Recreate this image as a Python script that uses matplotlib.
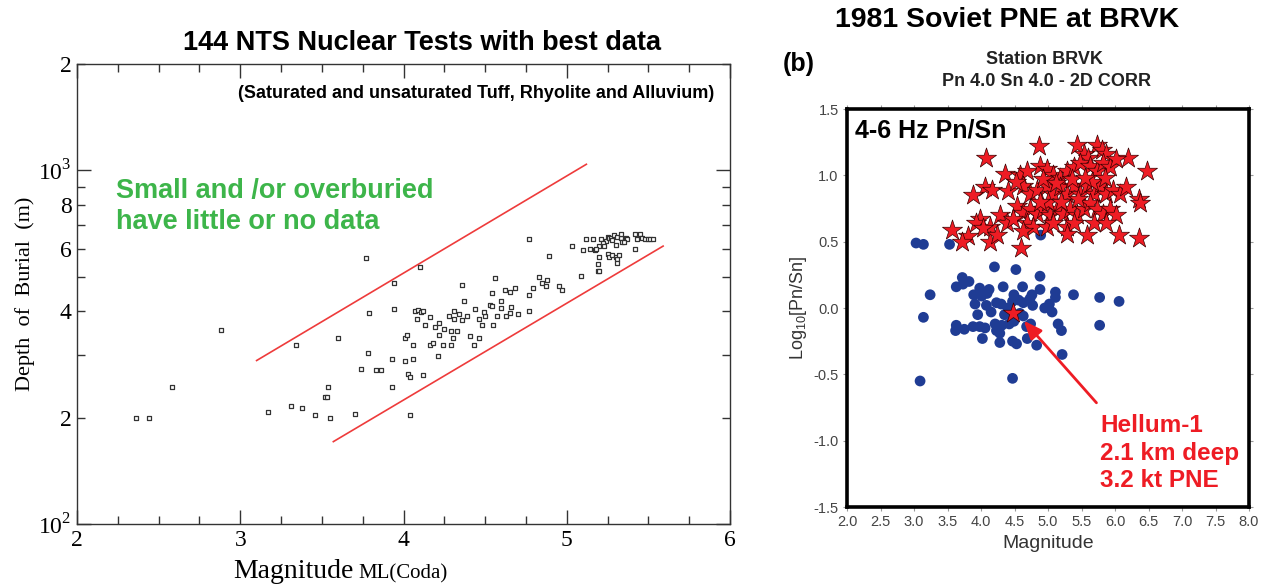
import matplotlib
matplotlib.use("Agg")
import matplotlib.pyplot as plt

plt.rcParams["font.family"] = ["Liberation Sans", "DejaVu Sans"]
plt.rcParams["mathtext.fontset"] = "custom"
plt.rcParams["mathtext.rm"] = "Liberation Serif"
plt.rcParams["mathtext.sf"] = "Liberation Sans"

# ---------------------------------------------------------------------------
# Data: left panel (NTS tests, magnitude vs depth of burial)
# ---------------------------------------------------------------------------
nts_mag = [2.36, 2.44, 2.58, 2.88, 3.17, 3.31, 3.34, 3.38, 3.46, 3.52, 3.54, 3.53,
           3.55, 3.60, 3.70, 3.74, 3.77, 3.78, 3.79, 3.83, 3.86, 3.93, 3.93, 3.94,
           3.94, 4.01, 4.02, 4.01, 4.03, 4.04, 4.04, 4.06, 4.06, 4.07, 4.09, 4.11,
           4.12, 4.08, 4.10, 4.12, 4.13, 4.16, 4.16, 4.18, 4.21, 4.22, 4.22, 4.24,
           4.25, 4.28, 4.29, 4.29, 4.30, 4.31, 4.33, 4.34, 4.36, 4.36, 4.37, 4.39,
           4.41, 4.43, 4.44, 4.46, 4.46, 4.48, 4.50, 4.53, 4.54, 4.54, 4.55, 4.56,
           4.57, 4.60, 4.60, 4.62, 4.63, 4.65, 4.65, 4.68, 4.70, 4.77, 4.77, 4.77,
           4.79, 4.83, 4.85, 4.87, 4.88, 4.89, 4.95, 4.97, 5.03, 5.09, 5.10, 5.12,
           5.16, 5.17, 5.19, 5.19, 5.20, 5.20, 5.20, 5.21, 5.24, 5.25, 5.26, 5.27,
           5.28, 5.29, 5.31, 5.33, 5.33, 5.34, 5.36, 5.37, 5.25, 5.26, 5.28, 5.30,
           5.31, 5.31, 5.32, 5.43, 5.45, 5.42, 5.46, 5.48, 5.50, 5.51, 5.53, 5.42,
           5.22, 5.23, 5.30, 5.35, 5.18, 5.14, 4.66, 4.49, 4.19, 4.31]
nts_depth = [200, 200, 244, 354, 207, 216, 321, 213, 204, 228, 244, 228,
             200, 335, 205, 274, 566, 305, 396, 272, 272, 293, 244, 481,
             405, 335, 343, 289, 266, 261, 203, 320, 293, 400, 402, 398,
             400, 381, 533, 264, 366, 385, 320, 326, 298, 370, 342, 320,
             357, 388, 351, 320, 336, 401, 351, 392, 378, 475, 428, 388,
             340, 320, 405, 336, 381, 366, 388, 416, 450, 413, 366, 495,
             388, 408, 428, 458, 388, 452, 396, 464, 393, 640, 445, 401,
             464, 501, 481, 472, 491, 573, 470, 458, 610, 502, 594, 640,
             640, 594, 545, 520, 520, 570, 613, 640, 632, 650, 645, 642,
             635, 655, 650, 645, 660, 628, 645, 640, 582, 570, 575, 568,
             560, 548, 575, 640, 663, 600, 645, 640, 640, 640, 640, 660,
             625, 612, 615, 628, 600, 600, 412, 398, 360, 380]

# bounding lines (endpoints)
upper_mag = [3.10, 5.12]
upper_depth = [290, 1041]
lower_mag = [3.57, 5.59]
lower_depth = [171, 611]

# ---------------------------------------------------------------------------
# Data: right panel (BRVK Pn/Sn ratios)
# ---------------------------------------------------------------------------
pne_mag = [4.87, 5.43, 5.73, 5.80, 5.87, 4.07, 6.20, 5.53, 5.60, 6.47, 4.36, 4.58,
           4.68, 4.88, 4.98, 5.08, 5.18, 5.28, 5.38, 5.48, 5.63, 5.73, 5.82, 5.92,
           6.02, 4.06, 4.16, 3.88, 4.63, 4.73, 4.83, 4.98, 5.08, 5.18, 5.28, 5.38,
           5.48, 5.58, 5.68, 5.78, 5.87, 5.97, 6.07, 6.17, 6.35, 6.37, 4.53, 4.63,
           4.73, 4.83, 4.93, 5.03, 5.13, 5.23, 5.33, 5.43, 5.53, 5.63, 5.73, 5.82,
           5.92, 6.02, 3.98, 3.93, 4.28, 4.38, 4.48, 4.13, 4.03, 4.68, 4.78, 4.98,
           5.08, 5.28, 5.38, 5.68, 5.87, 3.57, 3.81, 3.72, 4.13, 4.24, 4.63, 4.60,
           5.28, 5.58, 6.06, 6.36, 4.40, 4.52, 5.00, 5.20, 5.45, 5.65, 5.85, 4.92,
           5.35, 4.88, 5.55, 5.12]
pne_ratio = [1.22, 1.23, 1.23, 1.19, 1.16, 1.13, 1.13, 1.16, 1.13, 1.03, 1.01, 1.00,
             1.03, 1.07, 1.05, 1.00, 0.98, 1.03, 1.06, 1.09, 1.07, 1.03, 1.09, 1.06,
             1.12, 0.91, 0.89, 0.85, 0.92, 0.86, 0.89, 0.92, 0.86, 0.91, 0.86, 0.92,
             0.86, 0.92, 0.86, 0.92, 0.86, 0.89, 0.86, 0.91, 0.82, 0.79, 0.77, 0.72,
             0.75, 0.71, 0.75, 0.70, 0.75, 0.71, 0.75, 0.70, 0.75, 0.79, 0.75, 0.71,
             0.75, 0.70, 0.67, 0.64, 0.70, 0.64, 0.67, 0.61, 0.60, 0.64, 0.61, 0.61,
             0.64, 0.61, 0.64, 0.64, 0.64, 0.585, 0.54, 0.50, 0.50, 0.55, 0.58, 0.45,
             0.56, 0.55, 0.55, 0.53, 0.88, 0.95, 0.80, 0.80, 0.82, 0.95, 0.98, 0.97,
             0.97, 0.80, 0.98, 0.94]

eq_mag = [3.03, 3.14, 3.53, 4.89, 4.20, 4.52, 3.72, 3.63, 3.73, 3.82, 4.88, 3.24,
          3.89, 3.98, 4.01, 4.12, 4.09, 4.33, 4.49, 4.62, 4.76, 4.88, 5.11, 5.11,
          5.38, 5.77, 6.06, 3.91, 4.08, 4.23, 3.95, 4.47, 4.63, 4.77, 4.95, 5.02,
          5.06, 3.14, 3.63, 3.62, 3.75, 3.88, 3.98, 4.06, 4.21, 4.23, 4.28, 4.31,
          4.35, 4.42, 4.48, 4.49, 4.63, 4.68, 4.74, 5.15, 5.20, 5.77, 4.02, 4.28,
          4.47, 4.53, 4.69, 4.83, 5.21, 3.09, 4.47, 4.40, 4.56, 4.73, 4.30, 4.15,
          4.58]
eq_ratio = [0.49, 0.48, 0.48, 0.55, 0.31, 0.29, 0.23, 0.16, 0.18, 0.20, 0.24, 0.10,
            0.10, 0.15, 0.09, 0.14, 0.11, 0.16, 0.10, 0.16, 0.10, 0.14, 0.12, 0.08,
            0.10, 0.08, 0.05, 0.03, 0.02, 0.04, -0.05, 0.05, 0.04, 0.02, 0.00, 0.03,
            -0.03, -0.07, -0.13, -0.17, -0.16, -0.14, -0.14, -0.15, -0.12, -0.17, -0.19, -0.13,
            -0.05, -0.12, -0.07, -0.10, -0.06, -0.14, -0.12, -0.12, -0.17, -0.13, -0.23, -0.26,
            -0.25, -0.27, -0.23, -0.28, -0.35, -0.55, -0.53, 0.00, 0.06, 0.07, 0.03, -0.03,
            -0.04]

helium_mag = [4.48]
helium_ratio = [-0.035]

GREEN = "#3db54a"
RED = "#ee1c24"
BLUE = "#1f3c94"

fig = plt.figure(figsize=(12.65, 5.84), dpi=100)

# ---------------------------------------------------------------------------
# Left panel
# ---------------------------------------------------------------------------
ax1 = fig.add_axes([0.0609, 0.1027, 0.5162, 0.7877])
ax1.set_yscale("log")
ax1.set_xlim(2, 6)
ax1.set_ylim(100, 2000)

ax1.plot(upper_mag, upper_depth, color="#ee3b3b", lw=1.2)
ax1.plot(lower_mag, lower_depth, color="#ee3b3b", lw=1.2)
ax1.scatter(nts_mag, nts_depth, marker="s", s=9, facecolors="white",
            edgecolors="#333333", linewidths=0.9, zorder=3)

serif = ["Liberation Serif", "DejaVu Serif"]
ax1.set_xticks([2, 3, 4, 5, 6])
ax1.set_xticklabels(["2", "3", "4", "5", "6"], family=serif, fontsize=17)
ax1.set_xticks([2.25, 2.5, 2.75, 3.25, 3.5, 3.75, 4.25, 4.5, 4.75,
                5.25, 5.5, 5.75], minor=True)
ax1.set_yticks([100, 1000])
ax1.set_yticklabels([r"$10^{2}$", r"$10^{3}$"], fontsize=17)
ax1.set_yticks([200, 300, 400, 500, 600, 700, 800, 900, 2000], minor=True)
ax1.set_yticklabels(["2", "", "4", "", "6", "", "8", "", "2"], minor=True,
                    family=serif, fontsize=17)
ax1.tick_params(which="both", direction="in", top=True, right=True,
                color="#333333", width=1)
ax1.tick_params(which="major", length=10, pad=4)
ax1.tick_params(which="minor", length=6, pad=4)
for sp in ax1.spines.values():
    sp.set_color("#333333")
    sp.set_linewidth(1)

ax1.set_ylabel("Depth  of  Burial  (m)", family=serif, fontsize=16, labelpad=2)
fig.text(233 / 1265, 1 - 578 / 584, "Magnitude", family=serif, fontsize=20,
         ha="left", va="baseline")
fig.text(358 / 1265, 1 - 578 / 584, "ML(Coda)", family=serif, fontsize=15,
         ha="left", va="baseline")

fig.text(422 / 1265, 1 - 43 / 584, "144 NTS Nuclear Tests with best data",
         fontsize=19.5, fontweight="bold", ha="center", va="center")
ax1.text(0.976, 0.935, "(Saturated and unsaturated Tuff, Rhyolite and Alluvium)",
         transform=ax1.transAxes, fontsize=13, fontweight="bold",
         ha="right", va="center")
ax1.text(0.06, 0.691, "Small and /or overburied\nhave little or no data",
         transform=ax1.transAxes, fontsize=19.5, fontweight="bold", color=GREEN,
         ha="left", va="center", linespacing=1.25)

# ---------------------------------------------------------------------------
# Right panel
# ---------------------------------------------------------------------------
ax2 = fig.add_axes([0.6696, 0.1318, 0.3178, 0.6815])
ax2.set_xlim(2, 8)
ax2.set_ylim(-1.5, 1.5)

ax2.scatter(eq_mag, eq_ratio, s=60, color=BLUE, edgecolors="none", zorder=2)
ax2.scatter(pne_mag, pne_ratio, marker="*", s=230, color=RED,
            edgecolors="#3a0000", linewidths=0.5, zorder=3)
ax2.scatter(helium_mag, helium_ratio, marker="*", s=230, color=RED,
            edgecolors="#3a0000", linewidths=0.5, zorder=4)

ax2.annotate("", xy=(4.61, -0.08), xytext=(5.75, -0.73),
             arrowprops=dict(arrowstyle="-|>,head_length=1.1,head_width=0.45",
                             color=RED, lw=2), zorder=5)
ax2.text(5.78, -0.80, "Hellum-1\n2.1 km deep\n3.2 kt PNE", color=RED,
         fontsize=17.5, fontweight="bold", ha="left", va="top", linespacing=1.25)
ax2.text(0.02, 0.945, "4-6 Hz Pn/Sn", transform=ax2.transAxes, fontsize=18,
         fontweight="bold", ha="left", va="center")

xt = [2.0, 2.5, 3.0, 3.5, 4.0, 4.5, 5.0, 5.5, 6.0, 6.5, 7.0, 7.5, 8.0]
yt = [-1.5, -1.0, -0.5, 0.0, 0.5, 1.0, 1.5]
ax2.set_xticks(xt)
ax2.set_xticklabels([f"{v:.1f}" for v in xt])
ax2.set_yticks(yt)
ax2.set_yticklabels([f"{v:.1f}" for v in yt])
ax2.tick_params(direction="out", length=3, width=0.8, color="#999999",
                labelcolor="#444444", labelsize=10.5, top=True, right=True, pad=3)
for sp in ax2.spines.values():
    sp.set_linewidth(2.6)
    sp.set_color("black")

ax2.set_xlabel("Magnitude", fontsize=14, color="#333333", labelpad=4)
ax2.set_ylabel(r"Log$_{\mathsf{10}}$[Pn/Sn]", fontsize=13, color="#333333",
               labelpad=3)

fig.text(1007 / 1265, 1 - 20 / 584, "1981 Soviet PNE at BRVK", fontsize=20.5,
         fontweight="bold", ha="center", va="center")
fig.text(783 / 1265, 1 - 64 / 584, "(b)", fontsize=18, fontweight="bold",
         ha="left", va="center")
fig.text(1044 / 1265, 1 - 60 / 584, "Station BRVK", fontsize=13,
         fontweight="bold", color="#222222", ha="center", va="center")
fig.text(1047 / 1265, 1 - 82 / 584, "Pn 4.0 Sn 4.0 - 2D CORR", fontsize=13,
         fontweight="bold", color="#222222", ha="center", va="center")

fig.savefig("out.png", dpi=100)
